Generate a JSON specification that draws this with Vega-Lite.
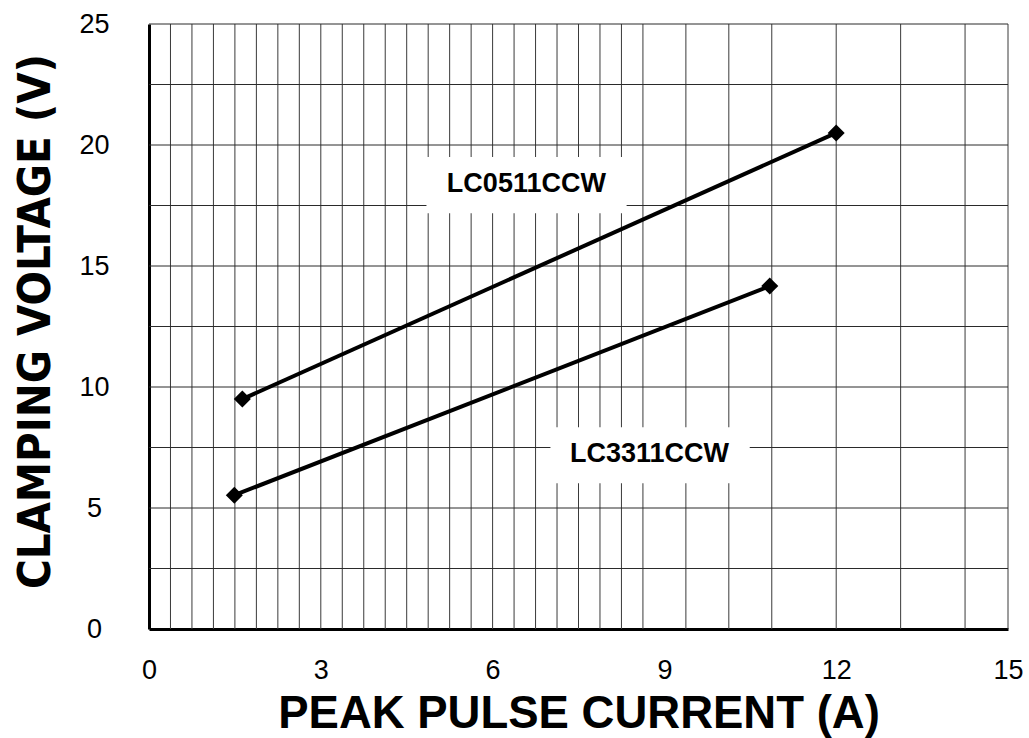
{
  "$schema": "https://vega.github.io/schema/vega-lite/v6.json",
  "autosize": "none",
  "width": 859,
  "height": 605,
  "padding": {"left": 149, "top": 24, "right": 21, "bottom": 109},
  "background": "white",
  "config": {
    "view": {"stroke": null},
    "axisX": {
      "grid": false, "ticks": false, "tickSize": 0,
      "domainColor": "black", "domainWidth": 3,
      "labelFont": "Liberation Sans", "labelFontSize": 27, "labelColor": "black", "labelPadding": 28,
      "labelFlush": false, "format": "d",
      "titleFont": "Liberation Sans", "titleFontWeight": "bold", "titleFontSize": 45.5, "titleColor": "black",
      "titleX": 429.5, "titleY": 98, "titleAlign": "center", "titleBaseline": "alphabetic", "titleAnchor": null,
      "zindex": 1
    },
    "axisY": {
      "grid": false, "ticks": false, "tickSize": 0,
      "domainColor": "black", "domainWidth": 3,
      "labelFont": "Liberation Sans", "labelFontSize": 27, "labelColor": "black", "labelPadding": 55,
      "labelAlign": "center", "labelBaseline": "middle", "labelFlush": false, "format": "d",
      "titleFont": "'Liberation Sans Narrow', 'Arial Narrow', 'DejaVu Sans Condensed', sans-serif", "titleFontWeight": "bold", "titleFontSize": 45, "titleColor": "black",
      "titleX": -99.5, "titleY": 297, "titleAngle": -90, "titleAlign": "center", "titleBaseline": "alphabetic", "titleAnchor": null,
      "zindex": 1
    }
  },
  "datasets": {
    "vgrid": [
      {"gx": 0.375}, {"gx": 0.75}, {"gx": 1.125}, {"gx": 1.5}, {"gx": 1.875}, {"gx": 2.25}, {"gx": 2.625}, {"gx": 3},
      {"gx": 3.375}, {"gx": 3.75}, {"gx": 4.125}, {"gx": 4.5}, {"gx": 4.875}, {"gx": 5.25}, {"gx": 5.625}, {"gx": 6},
      {"gx": 6.375}, {"gx": 6.75}, {"gx": 7.125}, {"gx": 7.5}, {"gx": 7.875}, {"gx": 8.25}, {"gx": 8.625},
      {"gx": 9.375}, {"gx": 10.125}, {"gx": 10.875}, {"gx": 12}, {"gx": 13.125}, {"gx": 14.25}, {"gx": 15}
    ],
    "hgrid": [
      {"gy": 2.5}, {"gy": 5}, {"gy": 7.5}, {"gy": 10}, {"gy": 12.5}, {"gy": 15}, {"gy": 17.5}, {"gy": 20}, {"gy": 22.5}, {"gy": 25}
    ],
    "boxes": [
      {"x1": 4.845, "x2": 8.34, "y1": 17.18, "y2": 19.5, "lx": 6.59, "ly": 18.4, "label": "LC0511CCW"},
      {"x1": 7.01, "x2": 10.49, "y1": 6.02, "y2": 8.34, "lx": 8.74, "ly": 7.22, "label": "LC3311CCW"}
    ],
    "series": [
      {"device": "LC0511CCW", "current": 1.63, "voltage": 9.5},
      {"device": "LC0511CCW", "current": 12.0, "voltage": 20.5},
      {"device": "LC3311CCW", "current": 1.49, "voltage": 5.53},
      {"device": "LC3311CCW", "current": 10.84, "voltage": 14.17}
    ]
  },
  "layer": [
    {
      "data": {"name": "vgrid"},
      "mark": {"type": "rule", "color": "#3a3a3a", "strokeWidth": 1},
      "encoding": {
        "x": {"field": "gx", "type": "quantitative", "scale": {"domain": [0, 15], "nice": false}, "title": "PEAK PULSE CURRENT (A)", "axis": {"values": [0, 3, 6, 9, 12, 15]}}
      }
    },
    {
      "data": {"name": "hgrid"},
      "mark": {"type": "rule", "color": "#2a2a2a", "strokeWidth": 1},
      "encoding": {
        "y": {"field": "gy", "type": "quantitative", "scale": {"domain": [0, 25], "nice": false}, "title": "CLAMPING VOLTAGE (V)", "axis": {"values": [0, 5, 10, 15, 20, 25]}}
      }
    },
    {
      "data": {"name": "boxes"},
      "mark": {"type": "rect", "fill": "white", "stroke": null},
      "encoding": {
        "x": {"field": "x1", "type": "quantitative", "title": "PEAK PULSE CURRENT (A)"},
        "x2": {"field": "x2"},
        "y": {"field": "y1", "type": "quantitative", "title": "CLAMPING VOLTAGE (V)"},
        "y2": {"field": "y2"}
      }
    },
    {
      "data": {"name": "series"},
      "mark": {"type": "line", "color": "black", "strokeWidth": 4, "point": {"shape": "diamond", "size": 290, "filled": true, "color": "black", "opacity": 1}},
      "encoding": {
        "x": {"field": "current", "type": "quantitative", "title": "PEAK PULSE CURRENT (A)"},
        "y": {"field": "voltage", "type": "quantitative", "title": "CLAMPING VOLTAGE (V)"},
        "detail": {"field": "device"}
      }
    },
    {
      "data": {"name": "boxes"},
      "mark": {"type": "text", "font": "Liberation Sans", "fontWeight": "bold", "fontSize": 27, "color": "black", "align": "center", "baseline": "middle"},
      "encoding": {
        "x": {"field": "lx", "type": "quantitative", "title": "PEAK PULSE CURRENT (A)"},
        "y": {"field": "ly", "type": "quantitative", "title": "CLAMPING VOLTAGE (V)"},
        "text": {"field": "label"}
      }
    }
  ]
}
